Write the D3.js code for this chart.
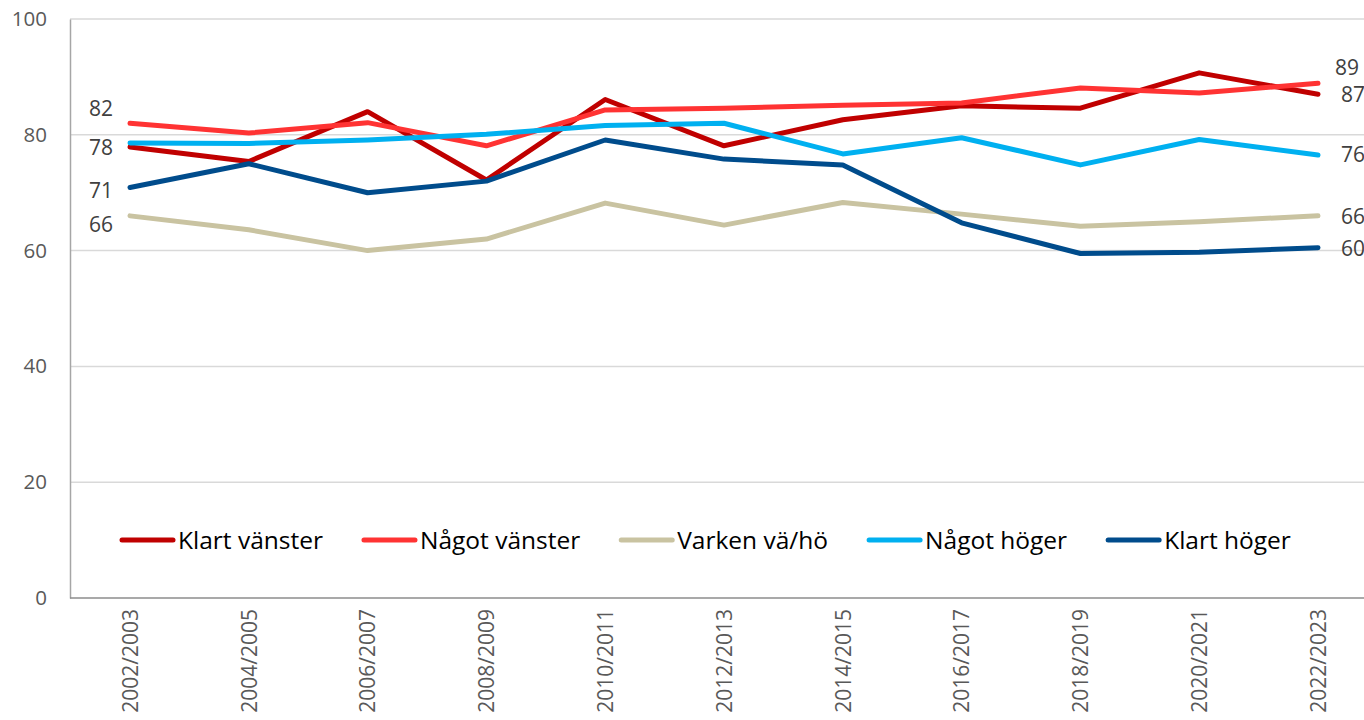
<!DOCTYPE html>
<html>
<head>
<meta charset="utf-8">
<script src="https://cdn.jsdelivr.net/npm/d3@7"></script>
<style>
  body { margin: 0; background: #fff; }
  svg { display: block; }
</style>
</head>
<body>
<div id="chart"></div>
<script>
var width = 1364;
var height = 720;

// data
var periods = ["2002/2003", "2004/2005", "2006/2007", "2008/2009", "2010/2011", "2012/2013",
               "2014/2015", "2016/2017", "2018/2019", "2020/2021", "2022/2023"];
var seriesNames = ["Klart vänster", "Något vänster", "Varken vä/hö", "Något höger", "Klart höger"];
var seriesColors = ["#C00000", "#FF3333", "#C9C3A1", "#00B0F0", "#004C8C"];
var klartVanster  = [77.9, 75.4, 84.0, 72.2, 86.1, 78.1, 82.6, 85.0, 84.6, 90.7, 87.0];
var nagotVanster  = [82.0, 80.3, 82.1, 78.1, 84.3, 84.6, 85.1, 85.5, 88.1, 87.2, 88.9];
var varken        = [66.0, 63.6, 60.0, 62.0, 68.2, 64.4, 68.3, 66.3, 64.2, 65.0, 66.0];
var nagotHoger    = [78.6, 78.5, 79.1, 80.1, 81.6, 82.0, 76.7, 79.5, 74.8, 79.2, 76.5];
var klartHoger    = [70.9, 75.0, 70.0, 72.0, 79.1, 75.8, 74.8, 64.8, 59.5, 59.7, 60.5];
var allValues = [klartVanster, nagotVanster, varken, nagotHoger, klartHoger];
var yTicks = [0, 20, 40, 60, 80, 100];
// end labels: first / last values shown as text
var startLabels = ["78", "82", "66", null, "71"];
var endLabels   = ["87", "89", "66", "76", "60"];

var series = seriesNames.map(function(n, i) {
  return { name: n, color: seriesColors[i], values: allValues[i],
           start: startLabels[i], end: endLabels[i] };
});

var svg = d3.select("#chart").append("svg").attr("width", width).attr("height", height);

var x = d3.scalePoint().domain(periods).range([130, 1318]);
var y = d3.scaleLinear().domain([0, 100]).range([598, 19]);

// grid
svg.append("g").selectAll("line")
  .data(yTicks.slice(1))
  .enter().append("line")
  .attr("x1", 70).attr("x2", width)
  .attr("y1", function(d) { return y(d); })
  .attr("y2", function(d) { return y(d); })
  .style("stroke", "#d9d9d9").style("stroke-width", 1.5);

// y axis
var yAxis = svg.append("g").attr("transform", "translate(70,0)")
  .call(d3.axisLeft(y).tickValues(yTicks).tickSize(0).tickPadding(23));
yAxis.select(".domain").style("stroke", "#a6a6a6").style("stroke-width", 1.5);
yAxis.selectAll("text").style("font-family", "'Open Sans'").style("font-size", "20.5px").style("fill", "#595959");

// x axis
var xAxis = svg.append("g").attr("transform", "translate(0," + y(0) + ")")
  .call(d3.axisBottom(x).tickSize(0));
xAxis.select(".domain").attr("d", "M70,0H" + width).style("stroke", "#8c8c8c").style("stroke-width", 1.5);
xAxis.selectAll("text")
  .style("font-family", "'Open Sans'").style("font-size", "21px").style("fill", "#595959")
  .attr("transform", "rotate(-90)")
  .attr("text-anchor", "end")
  .attr("x", -11).attr("y", 0).attr("dy", "0.35em");

// lines
var line = d3.line()
  .x(function(d, i) { return x(periods[i]); })
  .y(function(d) { return y(d); });

svg.append("g").selectAll("path")
  .data(series)
  .enter().append("path")
  .attr("d", function(d) { return line(d.values); })
  .style("fill", "none")
  .style("stroke", function(d) { return d.color; })
  .style("stroke-width", 5)
  .style("stroke-linejoin", "round")
  .style("stroke-linecap", "round");

// data labels
var startOffset = [1, -15, 9, 0, 3];
var endOffset = [0, -16, 1, 0, 1];
var labels = svg.append("g")
  .style("font-family", "'Open Sans'").style("font-size", "21px").style("fill", "#404040");

labels.selectAll(".startLab")
  .data(series.filter(function(d) { return d.start; }))
  .enter().append("text")
  .attr("class", "startLab")
  .attr("text-anchor", "end")
  .attr("dy", "0.35em")
  .attr("x", 113)
  .attr("y", function(d) { return y(d.values[0]) + startOffset[series.indexOf(d)]; })
  .text(function(d) { return d.start; });

labels.selectAll(".endLab")
  .data(series)
  .enter().append("text")
  .attr("class", "endLab")
  .attr("dy", "0.35em")
  .attr("x", function(d) { return d.end == "89" ? 1335 : 1341; })
  .attr("y", function(d) { return y(d.values[10]) + endOffset[series.indexOf(d)]; })
  .text(function(d) { return d.end; });

// legend
var legend = svg.append("g").attr("transform", "translate(0,540)");
var lx = 120;
series.forEach(function(s) {
  var g = legend.append("g").attr("transform", "translate(" + lx + ",0)");
  g.append("line").attr("x1", 2).attr("x2", 53).attr("y1", 0).attr("y2", 0)
    .style("stroke", s.color).style("stroke-width", 5).style("stroke-linecap", "round");
  var t = g.append("text").attr("x", 58).attr("dy", "0.35em")
    .style("font-family", "'Liberation Sans Narrow', 'Open Sans'")
    .style("font-size", "24.5px").style("fill", "#000")
    .text(s.name);
  var w = t.node().getComputedTextLength();
  lx += 58 + w + 39;
});
</script>
</body>
</html>
